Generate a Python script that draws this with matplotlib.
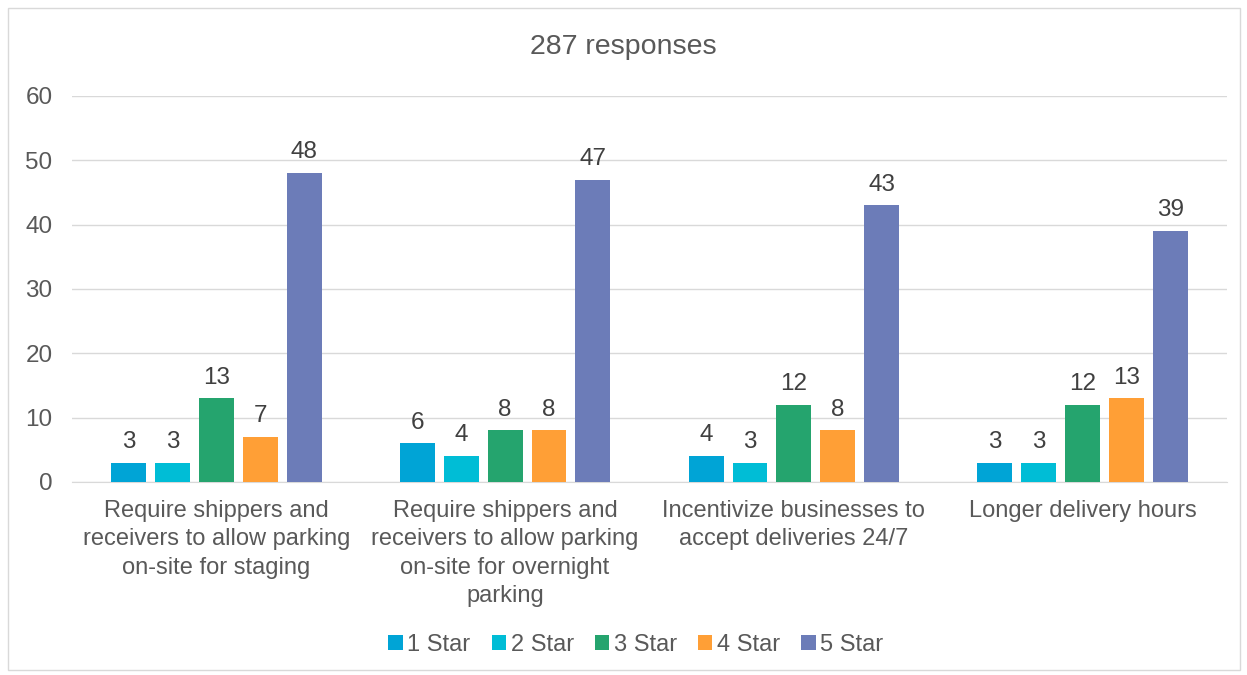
import numpy as np
import matplotlib
matplotlib.use("Agg")
import matplotlib.pyplot as plt
from matplotlib.patches import Rectangle

plt.rcParams['font.family'] = ['Liberation Sans', 'DejaVu Sans']

categories = [
    "Require shippers and\nreceivers to allow parking\non-site for staging",
    "Require shippers and\nreceivers to allow parking\non-site for overnight\nparking",
    "Incentivize businesses to\naccept deliveries 24/7",
    "Longer delivery hours",
]
seriesNames = ["1 Star", "2 Star", "3 Star", "4 Star", "5 Star"]
star1 = [3, 6, 4, 3]
star2 = [3, 4, 3, 3]
star3 = [13, 8, 12, 12]
star4 = [7, 8, 8, 13]
star5 = [48, 47, 43, 39]
seriesValues = [star1, star2, star3, star4, star5]
colors = ["#00A4D6", "#00BDD6", "#25A46E", "#FF9F36", "#6C7CB8"]
yTicks = [0, 10, 20, 30, 40, 50, 60]
textColor = "#595959"

fig = plt.figure(figsize=(12.47, 6.75), dpi=100)
ax = fig.add_axes([0.0577, 0.286, 0.9263, 0.572])

## Outer chart border
fig.patches.append(Rectangle((8/1247, 1-670/675), 1232/1247, 662/675, transform=fig.transFigure,
                             fill=False, edgecolor="#D9D9D9", linewidth=1))

x = np.arange(len(categories))
barWidth = 0.121
step = 0.152
for indexSeries, (name, values) in enumerate(zip(seriesNames, seriesValues)):
    offsets = x + (indexSeries - 2) * step
    bars = ax.bar(offsets, values, width=barWidth, color=colors[indexSeries], label=name, zorder=3)
    for bar, value in zip(bars, values):
        ax.annotate(str(value), (bar.get_x() + bar.get_width()/2, value), xytext=(0, 7),
                    textcoords="offset points", ha="center", va="bottom", fontsize=17.5, color="#404040")

ax.set_xlim(-0.5, len(categories) - 0.5)
ax.set_ylim(0, 60)
ax.set_yticks(yTicks)
ax.set_xticks(x)
ax.set_xticklabels(categories, fontsize=17, color=textColor, linespacing=1.38)
ax.tick_params(axis="y", labelsize=17.5, labelcolor=textColor, length=0, pad=14)
ax.tick_params(axis="x", length=0, pad=13)
ax.grid(axis="y", color="#D9D9D9", linewidth=1, zorder=0)
for border in ["top", "left", "right"]:
    ax.spines[border].set_visible(False)
ax.spines["bottom"].set_color("#D9D9D9")

fig.text(0.5, 1 - 47/675, "287 responses", ha="center", va="center", fontsize=20.5, color=textColor)
fig.legend(loc="center", bbox_to_anchor=(0.51, 1 - 645/675), ncol=5, frameon=False, fontsize=17,
           labelcolor=textColor, handlelength=0.6, handleheight=0.6, handletextpad=0.2, columnspacing=0.9)

fig.savefig("out.png", dpi=100)
